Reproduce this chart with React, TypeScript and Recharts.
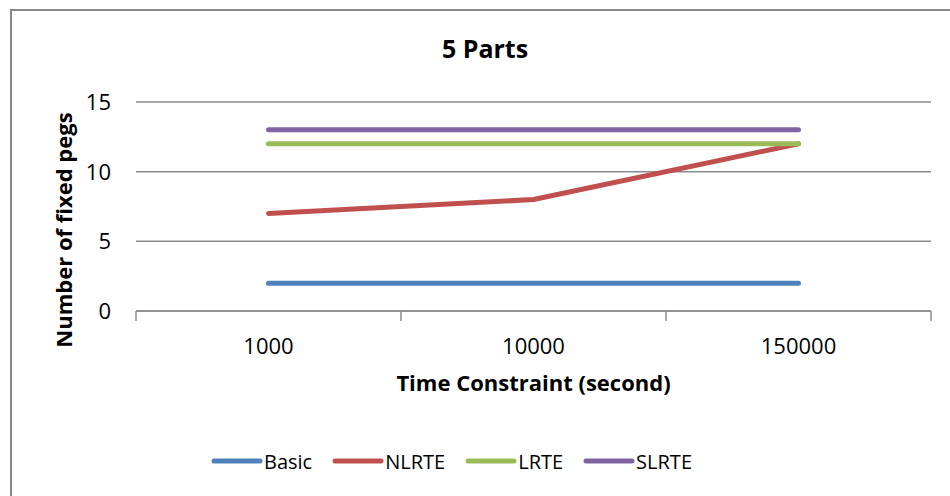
import React from "react";
import { LineChart, Line, XAxis, YAxis, CartesianGrid, Legend } from "recharts";

const categories = ["1000", "10000", "150000"];
const basic = [2, 2, 2];
const nlrte = [7, 8, 12];
const lrte = [12, 12, 12];
const slrte = [13, 13, 13];
const yTicks = [0, 5, 10, 15];

const seriesDefs = [
  { key: "Basic", values: basic, color: "#4F81BD" },
  { key: "NLRTE", values: nlrte, color: "#C0504D" },
  { key: "LRTE", values: lrte, color: "#9BBB59" },
  { key: "SLRTE", values: slrte, color: "#8064A2" },
];

const data = categories.map((c, i) => {
  const row: any = { pos: i + 0.5, name: c };
  seriesDefs.forEach((s) => (row[s.key] = s.values[i]));
  return row;
});

const xTicks: number[] = [];
for (let i = 0; i <= categories.length; i++) {
  xTicks.push(i);
  if (i < categories.length) xTicks.push(i + 0.5);
}

const FONT = "'Open Sans', 'Noto Sans', sans-serif";
const GRID = "#8c8c8c";

const XTick = (props: any) => {
  const { x, y, payload } = props;
  const v = payload.value;
  if (Number.isInteger(v)) {
    return <line x1={x} x2={x} y1={y - 8} y2={y + 2} stroke={GRID} strokeWidth={1.5} />;
  }
  const label = categories[Math.floor(v)];
  return (
    <text x={x} y={y + 35} textAnchor="middle" fontFamily={FONT} fontSize={22} fill="#000">
      {label}
    </text>
  );
};

const YTick = (props: any) => {
  const { y, payload } = props;
  return (
    <text x={111} y={y + 8} textAnchor="end" fontFamily={FONT} fontSize={22} fill="#000">
      {payload.value}
    </text>
  );
};

const LegendContent = () => (
  <div style={{ display: "flex", justifyContent: "flex-start", paddingLeft: 211, height: 30, alignItems: "center", fontFamily: FONT, fontSize: 20, color: "#000" }}>
    {seriesDefs.map((s, i) => (
      <div key={s.key} style={{ display: "flex", alignItems: "center", marginLeft: i === 0 ? 0 : 20 }}>
        <svg width={52} height={10}>
          <line x1={3} x2={49} y1={5} y2={5} stroke={s.color} strokeWidth={5} strokeLinecap="round" />
        </svg>
        <span style={{ marginLeft: 1 }}>{s.key}</span>
      </div>
    ))}
  </div>
);

export default function App() {
  return (
    <div style={{ position: "fixed", left: 0, top: 0, width: 950, height: 496, overflow: "hidden", background: "#fff" }}>
      <div style={{ position: "absolute", left: 10, top: 9, width: 960, height: 520, border: "2px solid #888", boxSizing: "border-box" }} />
      <div style={{ position: "absolute", left: 0, top: 0 }}>
        <LineChart width={950} height={496} data={data} margin={{ top: 102, right: 19, bottom: 20, left: 0 }}>
          <CartesianGrid vertical={false} stroke={GRID} strokeWidth={1.5} />
          <XAxis
            dataKey="pos"
            type="number"
            domain={[0, categories.length]}
            ticks={xTicks}
            interval={0}
            tickLine={false}
            axisLine={{ stroke: GRID, strokeWidth: 1.5 }}
            tick={<XTick />}
            height={135}
            label={(p: any) => {
              const vb = p.viewBox;
              return (
                <text x={vb.x + vb.width / 2} y={vb.y + 80} textAnchor="middle" fontFamily={FONT} fontWeight="bold" fontSize={22} fill="#000">
                  Time Constraint (second)
                </text>
              );
            }}
          />
          <YAxis
            domain={[0, 15]}
            ticks={yTicks}
            width={136}
            axisLine={false}
            tickLine={false}
            tick={<YTick />}
            label={() => (
              <text x={72} y={230} transform="rotate(-90 72 230)" textAnchor="middle" fontFamily={FONT} fontWeight="bold" fontSize={22} fill="#000">
                Number of fixed pegs
              </text>
            )}
          />
          <Legend verticalAlign="bottom" content={<LegendContent />} />
          {seriesDefs.map((s) => (
            <Line
              key={s.key}
              dataKey={s.key}
              stroke={s.color}
              strokeWidth={5}
              strokeLinecap="round"
              strokeLinejoin="round"
              dot={false}
              activeDot={false}
              isAnimationActive={false}
            />
          ))}
        </LineChart>
      </div>
      <div style={{ position: "absolute", left: 0, width: 970, top: 32, textAlign: "center", fontFamily: FONT, fontWeight: "bold", fontSize: 25, color: "#000", lineHeight: "32px" }}>
        5 Parts
      </div>
    </div>
  );
}
